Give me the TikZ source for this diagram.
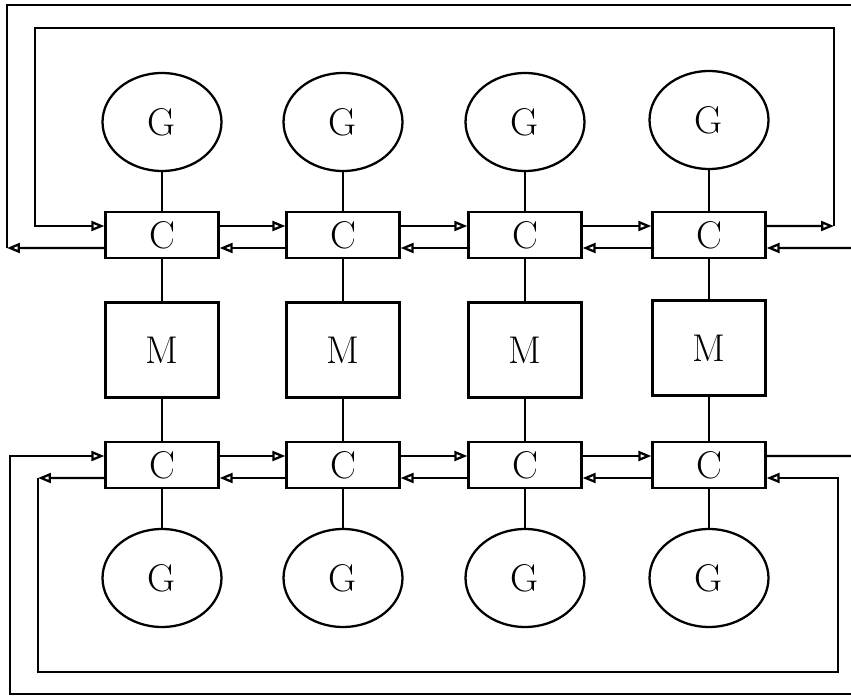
\documentclass[tikz,border=0pt]{standalone}
\usepackage{fontspec}
\usetikzlibrary{arrows.meta,shapes.geometric}

\begin{document}
\begin{tikzpicture}[x=0.02cm,y=-0.02cm,line width=1.3pt,
gnode/.style={draw,ellipse,minimum width=2.38cm,minimum height=1.96cm,inner sep=0pt,font=\fontsize{22}{26}\selectfont},
cnode/.style={draw,rectangle,minimum width=2.26cm,minimum height=0.92cm,inner sep=0pt,font=\fontsize{22}{26}\selectfont},
mnode/.style={draw,rectangle,minimum width=2.26cm,minimum height=1.9cm,inner sep=0pt,font=\fontsize{22}{26}\selectfont},
arr/.style={-{Triangle[open,length=0.26cm,width=0.2cm]}}]
\useasboundingbox (0,0) rectangle (851,696);

\node[gnode] (tg1) at (162,122) {G};
\node[gnode] (tg2) at (343,122) {G};
\node[gnode] (tg3) at (525,122) {G};
\node[gnode] (tg4) at (709,120) {G};

\node[cnode] (tc1) at (162,235) {C};
\node[cnode] (tc2) at (343,235) {C};
\node[cnode] (tc3) at (525,235) {C};
\node[cnode] (tc4) at (709,235) {C};

\node[mnode] (m1) at (162,350) {M};
\node[mnode] (m2) at (343,350) {M};
\node[mnode] (m3) at (525,350) {M};
\node[mnode] (m4) at (709,348) {M};

\node[cnode] (bc1) at (162,465) {C};
\node[cnode] (bc2) at (343,465) {C};
\node[cnode] (bc3) at (525,465) {C};
\node[cnode] (bc4) at (709,465) {C};

\node[gnode] (bg1) at (162,578) {G};
\node[gnode] (bg2) at (343,578) {G};
\node[gnode] (bg3) at (525,578) {G};
\node[gnode] (bg4) at (709,578) {G};

\draw (tg1) -- (tc1) -- (m1) -- (bc1) -- (bg1);
\draw (tg2) -- (tc2) -- (m2) -- (bc2) -- (bg2);
\draw (tg3) -- (tc3) -- (m3) -- (bc3) -- (bg3);
\draw (tg4) -- (tc4) -- (m4) -- (bc4) -- (bg4);

\draw[arr] ([yshift=0.18cm]tc1.east) -- ([yshift=0.18cm]tc2.west);
\draw[arr] ([yshift=0.18cm]tc2.east) -- ([yshift=0.18cm]tc3.west);
\draw[arr] ([yshift=0.18cm]tc3.east) -- ([yshift=0.18cm]tc4.west);
\draw[arr] ([yshift=-0.26cm]tc4.west) -- ([yshift=-0.26cm]tc3.east);
\draw[arr] ([yshift=-0.26cm]tc3.west) -- ([yshift=-0.26cm]tc2.east);
\draw[arr] ([yshift=-0.26cm]tc2.west) -- ([yshift=-0.26cm]tc1.east);

\draw[arr] ([yshift=0.18cm]bc1.east) -- ([yshift=0.18cm]bc2.west);
\draw[arr] ([yshift=0.18cm]bc2.east) -- ([yshift=0.18cm]bc3.west);
\draw[arr] ([yshift=0.18cm]bc3.east) -- ([yshift=0.18cm]bc4.west);
\draw[arr] ([yshift=-0.26cm]bc4.west) -- ([yshift=-0.26cm]bc3.east);
\draw[arr] ([yshift=-0.26cm]bc3.west) -- ([yshift=-0.26cm]bc2.east);
\draw[arr] ([yshift=-0.26cm]bc2.west) -- ([yshift=-0.26cm]bc1.east);

\coordinate (ti) at (834,226);
\coordinate (tj) at (35,28);
\coordinate (to) at (7,248);
\coordinate (tq) at (851,5);
\coordinate (tr) at (851,248);

\draw[arr] ([yshift=0.18cm]tc4.east) -- (ti);
\draw[arr] (ti) |- (tj) |- ([yshift=0.18cm]tc1.west);
\draw[arr] ([yshift=-0.26cm]tc1.west) -- (to);
\draw (to) |- (tq);
\draw[arr] (tr) -- ([yshift=-0.26cm]tc4.east);

\coordinate (bi) at (38,478);
\coordinate (bj) at (838,672);
\coordinate (bo) at (10,694);
\coordinate (bq) at (851,694);
\coordinate (br) at (851,456);

\draw ([yshift=0.18cm]bc4.east) -- (br);
\draw[arr] (bq) -- (bo) |- ([yshift=0.18cm]bc1.west);
\draw[arr] ([yshift=-0.26cm]bc1.west) -- (bi);
\draw[arr] (bi) |- (bj) |- ([yshift=-0.26cm]bc4.east);

\end{tikzpicture}
\end{document}
